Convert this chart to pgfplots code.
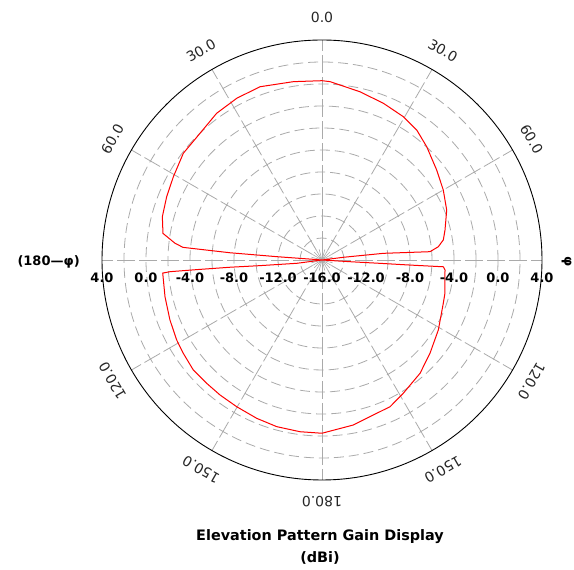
\documentclass[border=0pt]{standalone}
\usepackage{fontspec}
\setmainfont{DejaVu Sans}
\usepackage{pgfplots}
\usepackage{pgfplotstable}
\pgfplotsset{compat=1.18}
\definecolor{gridc}{RGB}{170,170,170}
\definecolor{patred}{RGB}{255,0,0}

% elevation pattern: theta (deg, clockwise from top), gain (dBi)
\pgfplotstableread{
theta gain
0 0.30
2.6 0.23
12.7 -0.32
21.4 -0.70
29.6 -1.02
36.1 -1.38
42.7 -1.97
51.9 -2.75
60.0 -3.27
68.2 -3.79
76.3 -4.49
80.6 -4.82
83.5 -5.36
85.6 -6.15
83.8 -10.39
82.8 -14.05
83.0 -16.00
262.5 -13.71
264.8 -10.34
265.5 -7.61
265.6 -4.88
265.6 -2.14
265.3 -1.47
256.8 -1.34
248.5 -1.14
241.2 -0.92
236.1 -0.80
229.5 -0.61
223.1 -0.65
217.1 -0.62
210.2 -0.57
202.4 -0.43
195.2 -0.30
187.3 -0.26
180.0 -0.25
169.3 -0.73
155.1 -1.30
148.6 -1.81
139.1 -2.38
130.8 -3.03
121.0 -3.66
109.7 -4.29
105.2 -4.42
94.7 -4.78
93.2 -4.95
93.3 -7.99
93.3 -10.72
93.5 -13.45
93.0 -16.00
274.4 -15.18
274.2 -11.90
274.5 -7.61
275.0 -4.87
275.2 -3.31
276.5 -2.55
279.5 -1.34
285.2 -0.96
292.2 -0.75
299.3 -0.51
307.6 -0.09
316.1 -0.01
324.3 0.42
332.2 0.62
340.3 0.73
350.9 0.42
360.0 0.30
}\elevdata

\begin{document}
\begin{tikzpicture}
% ---- grid (centre of the polar plot is at (322pt,310pt) = axis (0,0)) ----
\begin{scope}[shift={(322pt,310pt)}]
  \foreach \r in {2,4,...,18}
    \draw[gridc, line width=0.8pt, dash pattern=on 10pt off 5pt] (0,0) circle[radius=\r*11pt];
  \foreach \a in {0,30,...,330}
    \draw[gridc, line width=0.8pt, dash pattern=on 18pt off 4pt] (90-\a:11pt) -- (90-\a:220pt);
  \foreach \a in {0,15,...,345}
    \draw[gridc, line width=0.6pt] (0,0) -- (90-\a:11pt);
  \draw[black, line width=0.9pt] (0,0) circle[radius=220pt];
\end{scope}

\begin{axis}[
  at={(0pt,0pt)}, anchor=south west,
  width=574pt, height=570pt, scale only axis, hide axis, clip=false,
  xmin=-29.2727, xmax=22.9091, ymin=-28.1818, ymax=23.6364,
]
\addplot[patred, line width=1pt, sharp plot] table[
  x expr={(\thisrow{gain}+16)*sin(\thisrow{theta})},
  y expr={(\thisrow{gain}+16)*cos(\thisrow{theta})}] {\elevdata};
\end{axis}

% ---- labels ----
\begin{scope}[shift={(322pt,310pt)}]
  \path (-322pt,-310pt) rectangle (252pt,260pt);
  \begin{scope}[every node/.style={font=\fontsize{13}{15}\selectfont\bfseries, inner sep=0pt}]
    \node at (-220pt,-18pt) {4.0};
    \node at (-176pt,-18pt) {0.0};
    \node at (-132pt,-18pt) {-4.0};
    \node at (-88pt,-18pt) {-8.0};
    \node at (-44pt,-18pt) {-12.0};
    \node at (0pt,-18pt) {-16.0};
    \node at (44pt,-18pt) {-12.0};
    \node at (88pt,-18pt) {-8.0};
    \node at (132pt,-18pt) {-4.0};
    \node at (176pt,-18pt) {0.0};
    \node at (220pt,-18pt) {4.0};
    \node[rotate=-90] at (244.5pt,-2pt) {φ};
    \node at (-273.4pt,-2pt) {(180—φ)};
  \end{scope}
  \begin{scope}[every node/.style={font=\fontsize{14}{16}\selectfont, inner sep=0pt, text=black!85}]
    \node at (0,243pt) {0.0};
    \foreach \a/\t in {30/30.0, 60/60.0, 120/120.0, 150/150.0, 180/180.0, -30/30.0, -60/60.0, -120/120.0, -150/150.0}
      \node[rotate=-\a] at (90-\a:242pt) {\t};
  \end{scope}
  \node[font=\fontsize{14.4}{17}\selectfont\bfseries] at (-2pt,-277pt) {Elevation Pattern Gain Display};
  \node[font=\fontsize{14.4}{17}\selectfont\bfseries] at (-2pt,-298pt) {(dBi)};
\end{scope}
\end{tikzpicture}
\end{document}
